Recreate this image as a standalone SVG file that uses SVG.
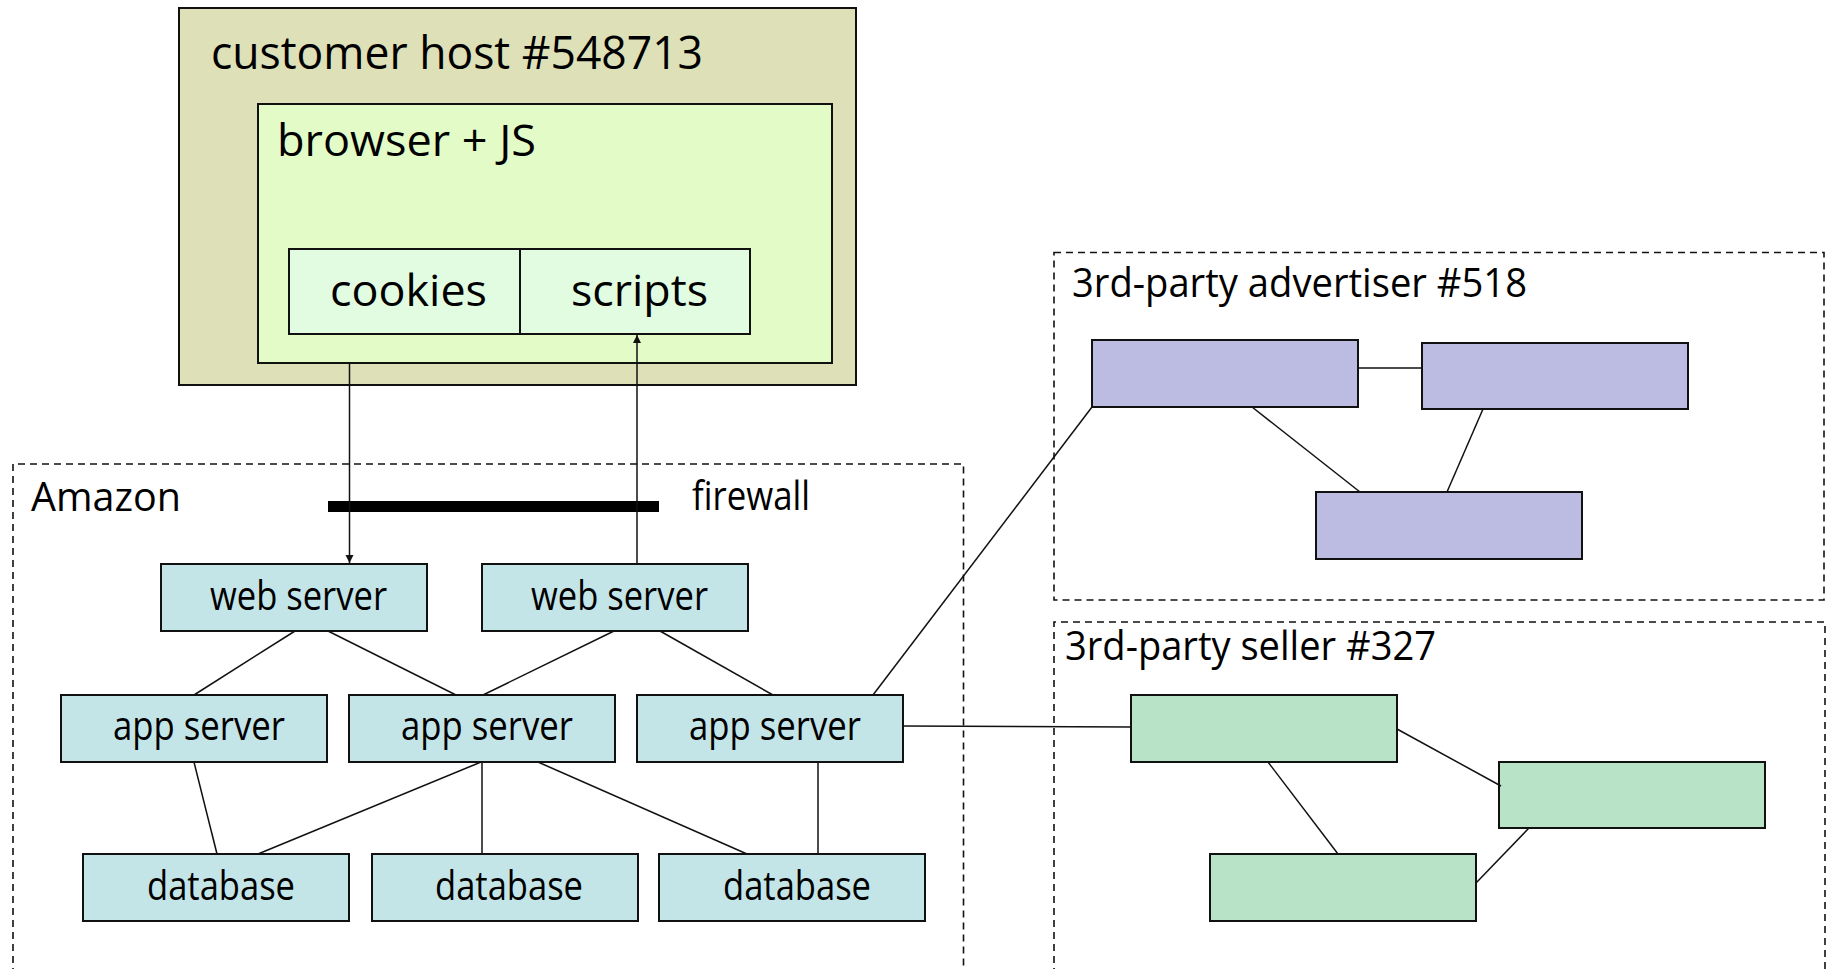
<svg xmlns="http://www.w3.org/2000/svg" width="1833" height="969" viewBox="0 0 1833 969">
  <style>
    text { font-family: "Open Sans", "Noto Sans", "Liberation Sans", sans-serif; fill: #000; }
    .box { stroke: #111; stroke-width: 2; }
    .host { fill: #dee0b8; }
    .browser { fill: #e3fbc6; }
    .store { fill: #e1fce0; }
    .srv { fill: #c4e5e8; }
    .adv { fill: #bcbbe2; }
    .sell { fill: #b8e3c7; }
    .zone { fill: none; stroke: #111; stroke-width: 1.6; stroke-dasharray: 7 5; }
    .lbl { font-size: 41px; }
    .big { font-size: 46px; }
    .mid { font-size: 44px; }
    .link { fill: none; stroke: #111; stroke-width: 1.5; }
  </style>
  <defs>
    <marker id="arrow" markerUnits="userSpaceOnUse" markerWidth="9" markerHeight="9" refX="8" refY="4" orient="auto">
      <path d="M0,0 L8,4 L0,8 z" fill="#111"/>
    </marker>
  </defs>

  <rect width="1833" height="969" fill="#fff"/>

  <!-- trust zones -->
  <g id="zone-amazon">
    <path class="zone" d="M13,975 V464 H963.5 V975"/>
    <text class="lbl" x="31" y="511" textLength="150" lengthAdjust="spacingAndGlyphs">Amazon</text>
  </g>
  <g id="zone-advertiser">
    <rect class="zone" x="1054" y="252.5" width="770" height="347.5"/>
    <text class="lbl" x="1072" y="297" textLength="455" lengthAdjust="spacingAndGlyphs">3rd-party advertiser #518</text>
  </g>
  <g id="zone-seller">
    <path class="zone" d="M1054,975 V622 H1825 V975"/>
    <text class="lbl" x="1065" y="660" textLength="371" lengthAdjust="spacingAndGlyphs">3rd-party seller #327</text>
  </g>

  <!-- customer side -->
  <g id="customer-host">
    <rect class="box host" x="179" y="8" width="677" height="377"/>
    <text class="big" x="211" y="69" textLength="492" lengthAdjust="spacingAndGlyphs">customer host #548713</text>
  </g>
  <g id="browser">
    <rect class="box browser" x="258" y="104" width="574" height="259"/>
    <text class="mid" x="277" y="156" textLength="259" lengthAdjust="spacingAndGlyphs">browser + JS</text>
  </g>
  <g id="cookies">
    <rect class="box store" x="289" y="249" width="231" height="85"/>
    <text class="mid" x="330" y="306" textLength="157" lengthAdjust="spacingAndGlyphs">cookies</text>
  </g>
  <g id="scripts">
    <rect class="box store" x="520" y="249" width="230" height="85"/>
    <text class="mid" x="571" y="306" textLength="137" lengthAdjust="spacingAndGlyphs">scripts</text>
  </g>

  <!-- firewall -->
  <g id="firewall">
    <rect x="328" y="501" width="331" height="11" fill="#000"/>
    <text class="lbl" x="692" y="510" textLength="118" lengthAdjust="spacingAndGlyphs">firewall</text>
  </g>

  <!-- Amazon tiers -->
  <g id="web-server-1">
    <rect class="box srv" x="161" y="564" width="266" height="67"/>
    <text class="lbl" x="210" y="610" textLength="177" lengthAdjust="spacingAndGlyphs">web server</text>
  </g>
  <g id="web-server-2">
    <rect class="box srv" x="482" y="564" width="266" height="67"/>
    <text class="lbl" x="531" y="610" textLength="177" lengthAdjust="spacingAndGlyphs">web server</text>
  </g>
  <g id="app-server-1">
    <rect class="box srv" x="61" y="695" width="266" height="67"/>
    <text class="lbl" x="113" y="740" textLength="172" lengthAdjust="spacingAndGlyphs">app server</text>
  </g>
  <g id="app-server-2">
    <rect class="box srv" x="349" y="695" width="266" height="67"/>
    <text class="lbl" x="401" y="740" textLength="172" lengthAdjust="spacingAndGlyphs">app server</text>
  </g>
  <g id="app-server-3">
    <rect class="box srv" x="637" y="695" width="266" height="67"/>
    <text class="lbl" x="689" y="740" textLength="172" lengthAdjust="spacingAndGlyphs">app server</text>
  </g>
  <g id="database-1">
    <rect class="box srv" x="83" y="854" width="266" height="67"/>
    <text class="lbl" x="147" y="900" textLength="148" lengthAdjust="spacingAndGlyphs">database</text>
  </g>
  <g id="database-2">
    <rect class="box srv" x="372" y="854" width="266" height="67"/>
    <text class="lbl" x="435" y="900" textLength="148" lengthAdjust="spacingAndGlyphs">database</text>
  </g>
  <g id="database-3">
    <rect class="box srv" x="659" y="854" width="266" height="67"/>
    <text class="lbl" x="723" y="900" textLength="148" lengthAdjust="spacingAndGlyphs">database</text>
  </g>

  <!-- advertiser hosts -->
  <g id="advertiser-1"><rect class="box adv" x="1092" y="340" width="266" height="67"/></g>
  <g id="advertiser-2"><rect class="box adv" x="1422" y="343" width="266" height="66"/></g>
  <g id="advertiser-3"><rect class="box adv" x="1316" y="492" width="266" height="67"/></g>

  <!-- seller hosts -->
  <g id="seller-1"><rect class="box sell" x="1131" y="695" width="266" height="67"/></g>
  <g id="seller-2"><rect class="box sell" x="1499" y="762" width="266" height="66"/></g>
  <g id="seller-3"><rect class="box sell" x="1210" y="854" width="266" height="67"/></g>

  <!-- connectors -->
  <g id="connectors">
    <line class="link" x1="349.5" y1="363" x2="349.5" y2="563" marker-end="url(#arrow)"/>
    <line class="link" x1="637" y1="564" x2="637" y2="335" marker-end="url(#arrow)"/>

    <line class="link" x1="295" y1="631" x2="194" y2="695"/>
    <line class="link" x1="328" y1="631" x2="456" y2="695"/>
    <line class="link" x1="614" y1="631" x2="483" y2="695"/>
    <line class="link" x1="660" y1="631" x2="773" y2="695"/>

    <line class="link" x1="194" y1="762" x2="217" y2="854"/>
    <line class="link" x1="481" y1="762" x2="258" y2="854"/>
    <line class="link" x1="482" y1="762" x2="482" y2="854"/>
    <line class="link" x1="538" y1="762" x2="747" y2="854"/>
    <line class="link" x1="818" y1="762" x2="818" y2="854"/>

    <line class="link" x1="873" y1="695" x2="1092" y2="407"/>
    <line class="link" x1="903" y1="726" x2="1131" y2="727"/>

    <line class="link" x1="1358" y1="368" x2="1422" y2="368"/>
    <line class="link" x1="1252" y1="407" x2="1360" y2="492"/>
    <line class="link" x1="1483" y1="409" x2="1447" y2="492"/>

    <line class="link" x1="1397" y1="729" x2="1501" y2="786"/>
    <line class="link" x1="1268" y1="762" x2="1338" y2="854"/>
    <line class="link" x1="1529" y1="828" x2="1476" y2="883"/>
  </g>
</svg>
